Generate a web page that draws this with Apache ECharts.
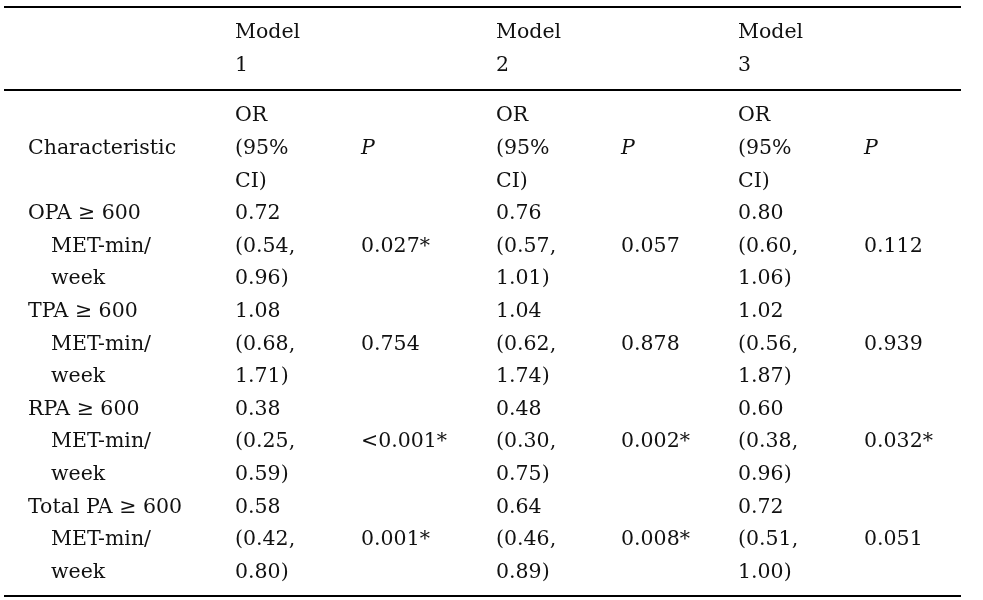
<!DOCTYPE html>
<html>
<head>
<meta charset="utf-8">
<script src="https://cdn.jsdelivr.net/npm/echarts@6/dist/echarts.min.js"></script>
<style>
  html, body { margin: 0; padding: 0; background: #fff; }
  #main { width: 983px; height: 600px; }
</style>
</head>
<body>
<div id="main"></div>
<script>
// table content
const modelNames = ['Model 1', 'Model 2', 'Model 3'];
const characteristics = ['OPA \u2265 600', 'TPA \u2265 600', 'RPA \u2265 600', 'Total PA \u2265 600'];
const unitLines = ['MET-min/', 'week'];
const orValues = [[0.72, 0.76, 0.80], [1.08, 1.04, 1.02], [0.38, 0.48, 0.60], [0.58, 0.64, 0.72]];
const ciLow = [[0.54, 0.57, 0.60], [0.68, 0.62, 0.56], [0.25, 0.30, 0.38], [0.42, 0.46, 0.51]];
const ciHigh = [[0.96, 1.01, 1.06], [1.71, 1.74, 1.87], [0.59, 0.75, 0.96], [0.80, 0.89, 1.00]];
const pValues = [
    ['0.027*', '0.057', '0.112'],
    ['0.754', '0.878', '0.939'],
    ['<0.001*', '0.002*', '0.032*'],
    ['0.001*', '0.008*', '0.051']
];

// layout
const orColX = [235, 496, 738];
const pColX = [361, 621, 864];
const labelX = 28, indentX = 51;
const headerY = [33, 66];
const firstLine = 116, lineStep = 32.6;
const rules = [7, 90, 596];
const ruleX = [4, 961];

const cells = [];
function lineY(k) { return firstLine + k * lineStep; }
function cell(x, y, text, italic) { cells.push([x, y, text, italic ? 1 : 0]); }

modelNames.forEach((m, i) => {
    const parts = m.split(' ');
    cell(orColX[i], headerY[0], parts[0]);
    cell(orColX[i], headerY[1], parts[1]);
    cell(orColX[i], lineY(0), 'OR');
    cell(orColX[i], lineY(1), '(95%');
    cell(orColX[i], lineY(2), 'CI)');
    cell(pColX[i], lineY(1), 'P', true);
});
cell(labelX, lineY(1), 'Characteristic');

characteristics.forEach((c, r) => {
    const base = 3 + r * 3;
    cell(labelX, lineY(base), c);
    cell(indentX, lineY(base + 1), unitLines[0]);
    cell(indentX, lineY(base + 2), unitLines[1]);
    for (let i = 0; i < 3; i++) {
        cell(orColX[i], lineY(base), orValues[r][i].toFixed(2));
        cell(orColX[i], lineY(base + 1), '(' + ciLow[r][i].toFixed(2) + ',');
        cell(orColX[i], lineY(base + 2), ciHigh[r][i].toFixed(2) + ')');
        cell(pColX[i], lineY(base + 1), pValues[r][i]);
    }
});

const chart = echarts.init(document.getElementById('main'));
chart.setOption({
    animation: false,
    grid: { left: 0, right: 0, top: 0, bottom: 0 },
    xAxis: { type: 'value', min: 0, max: 983, show: false },
    yAxis: { type: 'value', min: 0, max: 600, inverse: true, show: false },
    series: [
        {
            type: 'custom',
            data: cells,
            renderItem: function (params, api) {
                const pt = api.coord([api.value(0), api.value(1)]);
                const italic = api.value(3) === 1;
                return {
                    type: 'text',
                    x: pt[0],
                    y: pt[1],
                    style: {
                        text: cells[params.dataIndex][2],
                        fill: '#111',
                        fontFamily: 'DejaVu Serif',
                        fontSize: 20.5,
                        fontStyle: italic ? 'italic' : 'normal',
                        align: 'left',
                        verticalAlign: 'middle'
                    }
                };
            }
        },
        {
            type: 'custom',
            data: rules.map(y => [y]),
            renderItem: function (params, api) {
                const y = api.value(0);
                const a = api.coord([ruleX[0], y]);
                const b = api.coord([ruleX[1], y]);
                return {
                    type: 'line',
                    shape: { x1: a[0], y1: a[1], x2: b[0], y2: b[1] },
                    style: { stroke: '#000', lineWidth: 2 }
                };
            }
        }
    ]
});
</script>
</body>
</html>
